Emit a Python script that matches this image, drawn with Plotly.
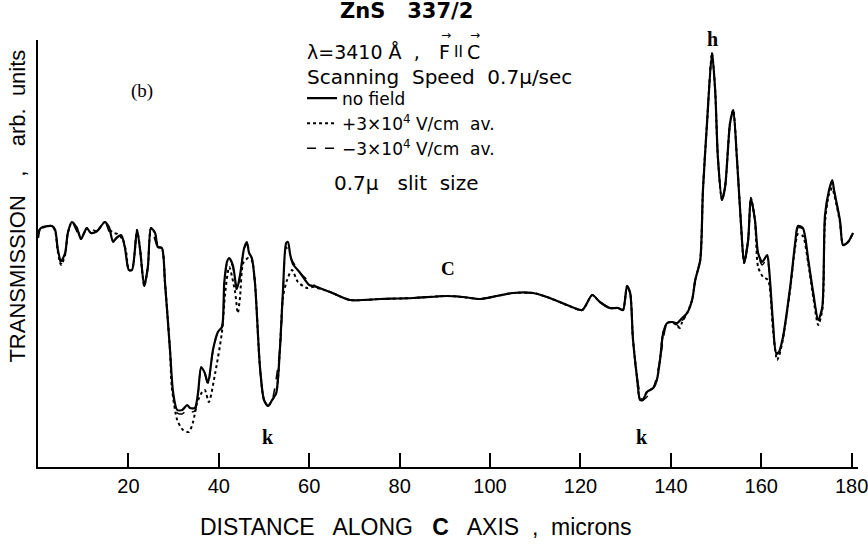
import plotly.graph_objects as go

# ---- data (x in microns, y in arbitrary transmission units) ----
solid_x = [0, 0.44, 1.1, 3.1, 3.8, 4.4, 5.1, 6.0, 6.6, 7.5, 8.6, 9.5, 10.2, 10.8, 11.7, 13.1, 14.8, 15.7, 16.6, 17.3,
           18.4, 19.2, 20.1, 20.8, 21.9, 22.6, 23.5, 24.3, 25.0, 25.9, 26.5, 27.4, 28.1, 29.2, 29.9, 30.8, 31.9, 33.0,
           33.6, 34.7, 35.4, 36.1, 36.9, 37.6, 38.7, 39.8, 40.7, 41.2, 41.8, 42.3, 43.1, 44.0, 44.7, 45.6, 46.2, 46.7,
           47.3, 48.0, 49.1, 50.0, 50.9, 51.8, 52.7, 53.5, 54.2, 54.9, 55.3, 55.8, 56.4, 58.0, 60.0, 61.7, 64.6, 69.0,
           75.7, 83.0, 90.5, 94.0, 97.8, 101.5, 105.1, 109.5, 112.6, 117.0, 120.4, 122.6, 124.3, 126.5, 128.3, 129.4,
           130.3, 131.0, 131.6, 132.5, 133.2, 133.8, 134.7, 136.1, 136.9, 137.6, 138.3, 139.2, 140.3, 141.4, 142.5,
           143.6, 144.7, 145.4, 146.5, 147.1, 148.0, 149.1, 149.8, 150.4, 151.3, 152.0, 153.1, 153.8, 154.6, 155.5,
           156.2, 157.1, 157.7, 158.6, 159.3, 160.2, 161.3, 161.7, 162.6, 163.3, 163.9, 164.8, 166.4, 167.5, 168.1,
           169.2, 170.4, 171.5, 172.6, 173.5, 174.1, 175.0, 175.7, 176.1, 177.4, 178.1, 179.2, 180.3]
solid_y = [229, 238, 240, 241, 237, 217, 206, 214, 234, 245, 239, 228, 234, 239, 234, 236, 245, 240, 225, 229,
           232, 220, 197, 197, 237, 217, 181, 200, 239, 234, 220, 219, 184, 117, 74, 57, 57, 62,
           59, 59, 74, 100, 94, 84, 117, 135, 140, 184, 205, 209, 202, 178, 192, 219, 225, 214,
           209, 184, 100, 67, 61, 67, 74, 117, 177, 224, 225, 212, 203, 194, 182, 180, 175, 167,
           168, 169, 171, 170, 168, 171, 174, 174, 170, 162, 157, 172, 165, 159, 159, 157,
           181, 174, 129, 90, 67, 67, 75, 79, 87, 107, 134, 144, 145, 144, 149,
           154, 167, 187, 207, 277, 344, 414, 377, 310, 267, 280, 344, 357, 310, 244,
           204, 227, 269, 247, 214, 205, 212, 200, 144, 114, 115, 130, 180, 224, 241,
           239, 207, 174, 147, 160, 252, 277, 287, 277, 247, 222, 225, 234]

dot_x = [0, 0.44, 3.1, 3.8, 4.4, 5.1, 6.0, 6.6, 7.5, 8.6, 9.5, 10.2, 10.8, 11.7, 13.1, 14.8, 15.9, 16.8, 17.6, 18.8,
         19.5, 20.1, 20.8, 21.9, 22.6, 23.5, 24.3, 25.0, 25.9, 26.5, 27.4, 28.1, 29.2, 29.6, 30.8, 32.1, 33.4, 34.3,
         35.2, 36.3, 36.9, 37.8, 39.2, 40.7, 41.4, 42.3, 43.6, 44.2, 44.7, 45.4, 46.5, 47.3, 48.0, 49.1, 50.0, 50.9,
         51.8, 52.7, 53.5, 54.2, 55.1, 56.2, 57.5, 59.5, 60.8, 64.6, 69.0, 75.7, 83.0, 90.5, 94.0, 97.8, 101.5,
         105.1, 109.5, 112.6, 117.0, 120.4, 122.6, 124.3, 126.5, 128.3, 129.4, 130.3, 131.0, 131.6, 132.5, 133.2,
         133.8, 134.7, 136.1, 136.9, 137.6, 138.3, 139.2, 140.3, 141.4, 142.0, 142.5, 143.6, 144.7, 145.4, 146.5,
         147.1, 148.0, 149.1, 149.8, 150.4, 151.3, 152.0, 153.1, 153.8, 154.6, 155.5, 156.2, 157.1, 157.7, 158.6,
         159.3, 160.4, 161.5, 162.6, 163.5, 164.0, 164.8, 166.4, 167.5, 168.1, 169.2, 170.4, 171.5, 172.6, 173.5,
         174.1, 175.0, 175.7, 176.1, 177.4, 178.1, 179.2, 180.3]
dot_y = [229, 238, 241, 236, 215, 202, 212, 234, 245, 239, 228, 234, 239, 234, 236, 245, 237, 234, 233, 227,
         215, 197, 197, 237, 217, 181, 200, 239, 234, 220, 219, 184, 117, 80, 47, 37, 35, 45,
         64, 75, 77, 65, 94, 135, 174, 200, 175, 154, 170, 204, 209, 207, 184, 100, 67, 61,
         67, 74, 117, 170, 187, 197, 185, 179, 180, 175, 167, 168, 169, 171, 170, 168, 171,
         174, 174, 170, 162, 157, 172, 165, 159, 159, 157, 181, 174, 129, 90, 67,
         67, 75, 79, 87, 107, 134, 144, 145, 141, 139, 145, 154, 167, 187, 207,
         277, 344, 414, 377, 310, 267, 280, 344, 357, 310, 244, 204, 227, 269, 247,
         200, 190, 187, 137, 107, 112, 128, 178, 220, 233, 231, 203, 170, 142, 157,
         245, 273, 279, 273, 245, 222, 225, 234]

dash_x = [0, 0.44, 3.1, 3.8, 4.4, 5.1, 6.0, 6.6, 7.5, 9.5, 10.8, 13.1, 14.8, 16.6, 18.4, 19.2, 20.1, 20.8, 21.9,
          22.6, 23.5, 24.3, 25.0, 26.5, 27.4, 28.1, 29.2, 29.9, 30.8, 31.9, 33.0, 33.6, 34.7, 35.4, 36.1, 36.9,
          37.6, 38.7, 39.8, 40.7, 41.2, 41.8, 42.3, 43.1, 44.0, 44.7, 45.6, 46.2, 47.3, 48.0, 49.1, 50.0, 50.9,
          51.8, 53.5, 54.2, 54.9, 55.8, 58.0, 61.7, 64.6, 69.0, 75.7, 83.0, 90.5, 94.0, 97.8, 101.5, 105.1, 109.5,
          112.6, 117.0, 120.4, 122.6, 124.3, 126.5, 128.3, 129.4, 130.3, 131.0, 131.6,
          132.5, 133.8, 136.1, 137.6, 139.2, 140.3, 141.4, 142.0, 142.5, 143.6, 144.7, 145.4, 146.5, 147.1, 148.0,
          149.1, 149.8, 150.4, 151.3, 152.0, 153.1, 153.8, 154.6, 155.5, 156.2, 157.1, 157.7, 158.6, 159.3, 160.2,
          161.3, 161.7, 162.6, 163.3, 163.9, 164.8, 166.4, 167.5, 168.1, 169.2, 170.4, 171.5, 172.6,
          173.5, 174.1, 175.0, 175.7, 176.1, 177.4, 178.1, 179.2, 180.3]
dash_y = [229, 238, 241, 237, 216, 203, 213, 234, 245, 228, 239, 236, 245, 226, 232, 220, 197, 197, 237,
          217, 181, 200, 239, 220, 219, 184, 117, 72, 54, 53, 57, 55, 56, 73, 99, 93,
          82, 116, 135, 140, 182, 203, 207, 200, 176, 191, 218, 223, 208, 184, 100, 67, 61,
          67, 117, 175, 220, 210, 194, 180, 175, 167, 168, 169, 171, 170, 168, 171, 174, 174,
          170, 162, 157, 172, 165, 159, 159, 157, 181, 174, 129,
          90, 67, 79, 107, 144, 145, 142, 139, 146, 154, 167, 187, 207, 277, 344,
          414, 377, 310, 267, 280, 344, 357, 310, 244, 204, 227, 269, 247, 212, 202,
          208, 198, 142, 113, 114, 129, 179, 223, 239, 238, 206, 173, 146,
          159, 250, 276, 286, 276, 247, 222, 225, 234]

x_ticks = [20, 40, 60, 80, 100, 120, 140, 160, 180]

sans = "Liberation Sans Narrow, Liberation Sans, Arial"
wide = "DejaVu Sans, Liberation Sans, Arial"
serif = "Liberation Serif, DejaVu Serif, serif"

fig = go.Figure()
fig.add_trace(go.Scatter(x=dot_x, y=dot_y, mode="lines", name="+3×10<sup>4</sup> V/cm  av.", legendrank=2,
                         line=dict(color="black", width=2, dash="dot", shape="spline", smoothing=0.7)))
fig.add_trace(go.Scatter(x=dash_x, y=dash_y, mode="lines", name="−3×10<sup>4</sup> V/cm  av.", legendrank=3,
                         line=dict(color="black", width=1.5, dash="dash", shape="spline", smoothing=0.7)))
fig.add_trace(go.Scatter(x=solid_x, y=solid_y, mode="lines", name="no field", legendrank=1,
                         line=dict(color="black", width=2.2, shape="spline", smoothing=0.7)))

fig.update_layout(
    width=868, height=544,
    margin=dict(l=38, r=10, t=40, b=77, autoexpand=False),
    paper_bgcolor="white", plot_bgcolor="white",
    showlegend=True,
    legend=dict(x=0.322, y=0.905, xanchor="left", yanchor="top", traceorder="normal",
                font=dict(family=wide, size=17, color="black"),
                bgcolor="rgba(0,0,0,0)", itemwidth=30, tracegroupgap=0),
    xaxis=dict(range=[0, 181.4], showgrid=False, zeroline=False, showline=True, linecolor="black", linewidth=2,
               automargin=False, ticklabeloverflow="allow",
               tickmode="array", tickvals=x_ticks, ticktext=[str(v) for v in x_ticks],
               ticks="inside", ticklen=14, tickwidth=1.5, tickcolor="black",
               tickfont=dict(family=sans, size=20, color="black")),
    yaxis=dict(range=[0, 427], showgrid=False, zeroline=False, showline=True, linecolor="black", linewidth=2,
               automargin=False, showticklabels=False, ticks=""),
    font=dict(family=sans, color="black"),
)

ann = [
    dict(text="<b>ZnS   337/2</b>", x=0.449, y=1.068, xanchor="center", yanchor="middle",
         font=dict(family=wide, size=21)),
    dict(text="λ=3410 Å  ,", x=0.326, y=0.972, xanchor="left", yanchor="middle",
         font=dict(family=wide, size=19)),
    dict(text="F", x=0.4963, y=0.972, xanchor="center", yanchor="middle", font=dict(family=wide, size=19)),
    dict(text="II", x=0.5122, y=0.972, xanchor="center", yanchor="middle", font=dict(family=wide, size=15)),
    dict(text="C", x=0.5317, y=0.972, xanchor="center", yanchor="middle", font=dict(family=wide, size=19)),
    dict(text="→", x=0.4970, y=1.012, xanchor="center", yanchor="middle", font=dict(family=wide, size=12)),
    dict(text="→", x=0.5324, y=1.012, xanchor="center", yanchor="middle", font=dict(family=wide, size=12)),
    dict(text="Scanning  Speed  0.7μ/sec", x=0.326, y=0.913, xanchor="left", yanchor="middle",
         font=dict(family=wide, size=20)),
    dict(text="0.7μ   slit  size", x=0.449, y=0.665, xanchor="center", yanchor="middle",
         font=dict(family=wide, size=20)),
    dict(text="(b)", x=0.127, y=0.88, xanchor="center", yanchor="middle",
         font=dict(family=serif, size=19)),
    dict(text="<b>h</b>", x=0.822, y=1.003, xanchor="center", yanchor="middle",
         font=dict(family=serif, size=20)),
    dict(text="<b>C</b>", x=0.500, y=0.465, xanchor="center", yanchor="middle",
         font=dict(family=serif, size=19)),
    dict(text="<b>k</b>", x=0.280, y=0.070, xanchor="center", yanchor="middle",
         font=dict(family=serif, size=20)),
    dict(text="<b>k</b>", x=0.736, y=0.070, xanchor="center", yanchor="middle",
         font=dict(family=serif, size=20)),
    dict(text="DISTANCE   ALONG   <b>C</b>   AXIS  ,  microns", x=0.461, y=-0.1405,
         xanchor="center", yanchor="middle", font=dict(family=sans, size=23)),
    dict(text="TRANSMISSION   ,    arb.  units", x=-0.025, y=0.611, xanchor="center", yanchor="middle",
         textangle=-90, font=dict(family="Liberation Sans, Arial", size=22)),
]
for a in ann:
    a.update(xref="paper", yref="paper", showarrow=False)
    a["font"]["color"] = "black"
fig.update_layout(annotations=ann)

fig.write_html("out.html")
